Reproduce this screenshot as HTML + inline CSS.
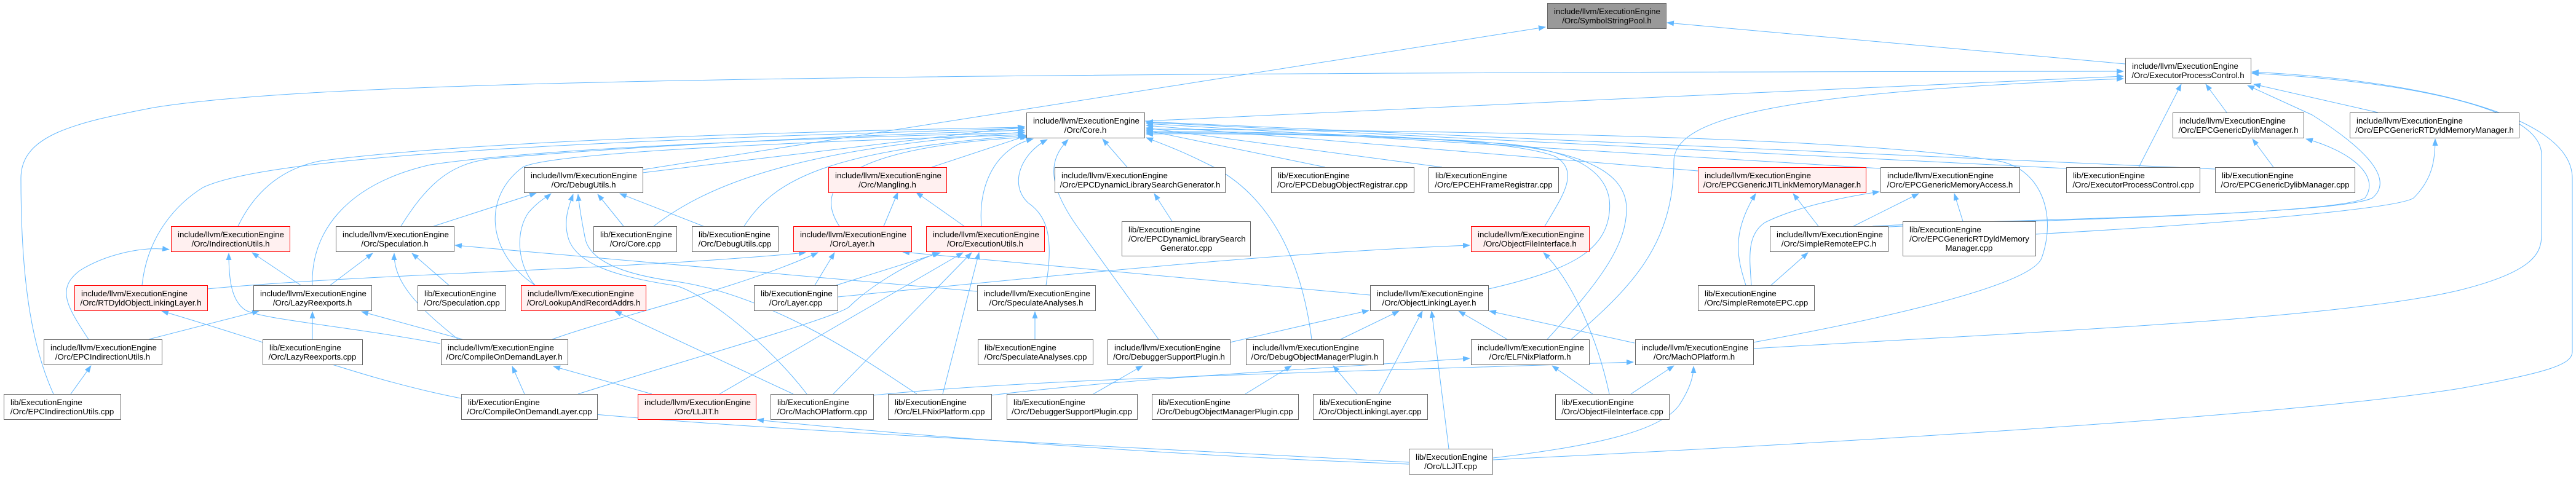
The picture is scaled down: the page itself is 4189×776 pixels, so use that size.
<!DOCTYPE html>
<html><head><meta charset="utf-8"><style>
html,body{margin:0;padding:0;background:#fff;}
svg{display:block;}
text{font-family:"Liberation Sans",Arial,sans-serif;font-size:13.3px;fill:#000;}
.n rect{fill:#fff;stroke:#666;stroke-width:1;}
.r rect{fill:#fff0f0;stroke:#ff0000;stroke-width:1;}
.g rect{fill:#999;stroke:#666;stroke-width:1;}
.e path{fill:none;stroke:#63b8ff;stroke-width:1;marker-end:url(#ah);}
</style></head><body>
<svg width="4189" height="776" viewBox="0 0 4189 776" xmlns="http://www.w3.org/2000/svg">
<defs><marker id="ah" markerUnits="userSpaceOnUse" markerWidth="12" markerHeight="9" refX="11" refY="4.5" orient="auto"><path d="M0,0 L12,4.5 L0,9 z" fill="#63b8ff"/></marker></defs>
<g class="e">
<path d="M3456,104 L2711,37"/>
<path d="M1045,276 L2513,44"/>
<path d="M1861,197 C2300,180 3000,140 3453,124"/>
<path d="M87,641 C50,560 34,450 34,290 C34,220 120,200 250,175 C500,135 1200,118 3453,116"/>
<path d="M2555,552 C2650,470 2722,400 2722,262 C2722,190 2900,150 3453,128"/>
<path d="M2428,748 C2900,725 3700,680 4000,632 C4150,605 4183,592 4183,572 L4183,290 C4183,180 3900,128 3662,117"/>
<path d="M2851,567 C3300,540 3800,520 4000,472 C4120,442 4133,412 4133,382 L4133,252 C4133,172 3900,132 3662,119"/>
<path d="M3478,272 L3547,137"/>
<path d="M3621,183 L3587,137"/>
<path d="M3867,183 L3665,137"/>
<path d="M3045,368 C3200,358 3800,352 3858,322 C3890,295 3860,250 3760,187 L3655,139"/>
<path d="M3050,370 C3300,357 3800,350 3846,322 C3872,285 3820,245 3750,226"/>
<path d="M3310,381 C3600,365 3900,340 3925,322 C3955,292 3960,262 3960,226"/>
<path d="M3697,272 L3663,226"/>
<path d="M3192,360 L3178,315"/>
<path d="M3014,368 L3120,315"/>
<path d="M2957,368 L2916,315"/>
<path d="M2839,464 C2825,420 2815,380 2855,315"/>
<path d="M2848,464 C2845,420 2840,382 2870,362 C2920,337 3000,320 3056,312"/>
<path d="M2880,464 L2940,411"/>
<path d="M1045,281 L1666,206"/>
<path d="M1515,272 L1672,220"/>
<path d="M1833,272 L1793,226"/>
<path d="M2155,272 L1864,212"/>
<path d="M2345,272 L1864,208"/>
<path d="M2761,278 L1864,204"/>
<path d="M3058,274 L1864,201"/>
<path d="M3360,274 L1864,199"/>
<path d="M3602,275 L1864,198"/>
<path d="M2851,557 C3000,530 3300,470 3320,420 C3345,350 3320,275 3250,262 C3000,220 2300,212 1864,210"/>
<path d="M387,368 C420,300 470,272 520,262 C800,225 1400,212 1666,207"/>
<path d="M652,368 C700,290 740,265 800,258 C1100,232 1500,216 1666,212"/>
<path d="M231,464 C240,380 290,330 330,305 C420,262 800,232 1666,209"/>
<path d="M508,464 C505,380 560,300 700,268 C900,238 1400,222 1666,216"/>
<path d="M870,464 C790,410 785,320 850,272 C900,245 1400,228 1666,219"/>
<path d="M1063,368 C1150,300 1300,240 1666,215"/>
<path d="M1210,368 C1260,290 1350,245 1667,220"/>
<path d="M1365,368 C1320,300 1380,240 1670,223"/>
<path d="M1596,368 C1590,300 1620,240 1680,226"/>
<path d="M1701,464 C1715,380 1700,350 1672,330 C1640,300 1660,250 1703,227"/>
<path d="M1884,552 L1760,380 C1700,300 1705,260 1737,227"/>
<path d="M2512,368 C2540,320 2570,280 2530,255 C2450,222 2100,214 1864,214"/>
<path d="M2421,470 C2550,440 2610,410 2617,346 C2625,280 2560,245 2450,234 C2200,217 1950,215 1864,216"/>
<path d="M2516,552 C2600,460 2645,400 2645,340 C2645,270 2550,242 2400,230 C2200,218 1950,217 1864,218"/>
<path d="M2133,552 C2120,450 2080,320 1960,265 C1920,245 1890,234 1864,224"/>
<path d="M705,368 L872,314"/>
<path d="M870,464 C840,430 838,375 860,345 C878,325 890,320 896,315"/>
<path d="M1014,368 L972,316"/>
<path d="M1144,368 L1008,315"/>
<path d="M1312,641 C1250,560 1150,480 1100,465 C1000,450 940,430 925,390 C915,360 925,335 932,316"/>
<path d="M1491,641 C1400,580 1250,480 1100,458 C1000,445 960,420 952,390 C946,360 942,335 940,316"/>
<path d="M489,464 L410,411"/>
<path d="M144,552 C110,500 90,470 130,440 C170,415 230,400 275,406"/>
<path d="M716,559 C560,530 430,520 400,505 C375,490 372,450 372,412"/>
<path d="M537,464 L606,412"/>
<path d="M730,464 L670,412"/>
<path d="M745,552 C680,500 640,460 641,412"/>
<path d="M1589,474 L740,399"/>
<path d="M242,552 L421,506"/>
<path d="M508,552 L508,507"/>
<path d="M752,552 L588,507"/>
<path d="M115,641 L148,595"/>
<path d="M2291,752 C1700,720 1000,690 760,650 C600,620 480,570 263,506"/>
<path d="M337,470 C600,445 1000,440 1310,411"/>
<path d="M898,552 C1000,515 1200,470 1330,411"/>
<path d="M853,641 L833,596"/>
<path d="M1060,641 L900,596"/>
<path d="M1325,464 L1357,411"/>
<path d="M1360,464 L1529,411"/>
<path d="M940,641 C1100,590 1350,520 1380,500 C1410,470 1470,430 1527,411"/>
<path d="M1170,641 L1566,411"/>
<path d="M1355,641 L1580,411"/>
<path d="M1533,641 L1592,411"/>
<path d="M1290,641 L1000,506"/>
<path d="M1437,368 L1460,313"/>
<path d="M1568,368 L1490,313"/>
<path d="M2228,480 C1900,450 1600,420 1468,410"/>
<path d="M1362,483 C1800,440 2100,410 2390,399"/>
<path d="M2617,641 C2600,560 2560,460 2510,411"/>
<path d="M1683,552 L1683,507"/>
<path d="M1906,360 L1877,315"/>
<path d="M2000,557 L2226,505"/>
<path d="M2180,552 L2275,506"/>
<path d="M2242,641 L2313,506"/>
<path d="M2356,730 L2328,506"/>
<path d="M2451,552 L2372,506"/>
<path d="M2658,558 L2422,506"/>
<path d="M1778,641 L1858,595"/>
<path d="M2025,641 L2100,595"/>
<path d="M2207,641 L2168,595"/>
<path d="M1612,643 C1800,620 2000,608 2390,583"/>
<path d="M1420,643 C1700,615 2100,608 2656,589"/>
<path d="M2590,641 L2524,595"/>
<path d="M2652,641 L2722,595"/>
<path d="M2428,745 C2600,725 2700,700 2730,660 C2750,630 2754,610 2754,596"/>
<path d="M2291,755 C2000,745 1600,720 1231,683"/>
</g>

<g class="r"><rect x="278.5" y="368.5" width="193" height="41"/><text x="289" y="386">include/llvm/ExecutionEngine</text><text x="375" y="401" text-anchor="middle">/Orc/IndirectionUtils.h</text></g>
<g class="n"><rect x="546.5" y="368.5" width="192" height="41"/><text x="557" y="386">include/llvm/ExecutionEngine</text><text x="642" y="401" text-anchor="middle">/Orc/Speculation.h</text></g>
<g class="n"><rect x="965.5" y="368.5" width="135" height="41"/><text x="976" y="386">lib/ExecutionEngine</text><text x="1033" y="401" text-anchor="middle">/Orc/Core.cpp</text></g>
<g class="n"><rect x="852.5" y="272.5" width="193" height="41"/><text x="863" y="290">include/llvm/ExecutionEngine</text><text x="949" y="305" text-anchor="middle">/Orc/DebugUtils.h</text></g>
<g class="r"><rect x="121.5" y="464.5" width="216" height="41"/><text x="132" y="482">include/llvm/ExecutionEngine</text><text x="229" y="497" text-anchor="middle">/Orc/RTDyldObjectLinkingLayer.h</text></g>
<g class="n"><rect x="412.5" y="464.5" width="192" height="41"/><text x="423" y="482">include/llvm/ExecutionEngine</text><text x="508" y="497" text-anchor="middle">/Orc/LazyReexports.h</text></g>
<g class="n"><rect x="679.5" y="464.5" width="143" height="41"/><text x="690" y="482">lib/ExecutionEngine</text><text x="751" y="497" text-anchor="middle">/Orc/Speculation.cpp</text></g>
<g class="r"><rect x="847.5" y="464.5" width="203" height="41"/><text x="858" y="482">include/llvm/ExecutionEngine</text><text x="949" y="497" text-anchor="middle">/Orc/LookupAndRecordAddrs.h</text></g>
<g class="n"><rect x="71.5" y="552.5" width="192" height="41"/><text x="82" y="570">include/llvm/ExecutionEngine</text><text x="167" y="585" text-anchor="middle">/Orc/EPCIndirectionUtils.h</text></g>
<g class="n"><rect x="427.5" y="552.5" width="162" height="41"/><text x="438" y="570">lib/ExecutionEngine</text><text x="508" y="585" text-anchor="middle">/Orc/LazyReexports.cpp</text></g>
<g class="n"><rect x="717.5" y="552.5" width="206" height="41"/><text x="728" y="570">include/llvm/ExecutionEngine</text><text x="820" y="585" text-anchor="middle">/Orc/CompileOnDemandLayer.h</text></g>
<g class="n"><rect x="6.5" y="641.5" width="190" height="41"/><text x="17" y="659">lib/ExecutionEngine</text><text x="101" y="674" text-anchor="middle">/Orc/EPCIndirectionUtils.cpp</text></g>
<g class="n"><rect x="750.5" y="641.5" width="221" height="41"/><text x="761" y="659">lib/ExecutionEngine</text><text x="861" y="674" text-anchor="middle">/Orc/CompileOnDemandLayer.cpp</text></g>
<g class="n"><rect x="1669.5" y="183.5" width="192" height="41"/><text x="1680" y="201">include/llvm/ExecutionEngine</text><text x="1765" y="216" text-anchor="middle">/Orc/Core.h</text></g>
<g class="r"><rect x="1347.5" y="272.5" width="192" height="41"/><text x="1358" y="290">include/llvm/ExecutionEngine</text><text x="1443" y="305" text-anchor="middle">/Orc/Mangling.h</text></g>
<g class="n"><rect x="1715.5" y="272.5" width="277" height="41"/><text x="1726" y="290">include/llvm/ExecutionEngine</text><text x="1854" y="305" text-anchor="middle">/Orc/EPCDynamicLibrarySearchGenerator.h</text></g>
<g class="n"><rect x="2067.5" y="272.5" width="232" height="41"/><text x="2078" y="290">lib/ExecutionEngine</text><text x="2183" y="305" text-anchor="middle">/Orc/EPCDebugObjectRegistrar.cpp</text></g>
<g class="n"><rect x="1125.5" y="368.5" width="140" height="41"/><text x="1136" y="386">lib/ExecutionEngine</text><text x="1195" y="401" text-anchor="middle">/Orc/DebugUtils.cpp</text></g>
<g class="r"><rect x="1290.5" y="368.5" width="192" height="41"/><text x="1301" y="386">include/llvm/ExecutionEngine</text><text x="1386" y="401" text-anchor="middle">/Orc/Layer.h</text></g>
<g class="r"><rect x="1506.5" y="368.5" width="192" height="41"/><text x="1517" y="386">include/llvm/ExecutionEngine</text><text x="1602" y="401" text-anchor="middle">/Orc/ExecutionUtils.h</text></g>
<g class="n"><rect x="1824.5" y="360.5" width="209" height="56"/><text x="1835" y="378">lib/ExecutionEngine</text><text x="1835" y="393">/Orc/EPCDynamicLibrarySearch</text><text x="1929" y="408" text-anchor="middle">Generator.cpp</text></g>
<g class="n"><rect x="1226.5" y="464.5" width="136" height="41"/><text x="1237" y="482">lib/ExecutionEngine</text><text x="1294" y="497" text-anchor="middle">/Orc/Layer.cpp</text></g>
<g class="n"><rect x="1589.5" y="464.5" width="192" height="41"/><text x="1600" y="482">include/llvm/ExecutionEngine</text><text x="1685" y="497" text-anchor="middle">/Orc/SpeculateAnalyses.h</text></g>
<g class="n"><rect x="1590.5" y="552.5" width="187" height="41"/><text x="1601" y="570">lib/ExecutionEngine</text><text x="1684" y="585" text-anchor="middle">/Orc/SpeculateAnalyses.cpp</text></g>
<g class="n"><rect x="1801.5" y="552.5" width="199" height="41"/><text x="1812" y="570">include/llvm/ExecutionEngine</text><text x="1901" y="585" text-anchor="middle">/Orc/DebuggerSupportPlugin.h</text></g>
<g class="n"><rect x="2026.5" y="552.5" width="223" height="41"/><text x="2037" y="570">include/llvm/ExecutionEngine</text><text x="2138" y="585" text-anchor="middle">/Orc/DebugObjectManagerPlugin.h</text></g>
<g class="r"><rect x="1037.5" y="641.5" width="192" height="41"/><text x="1048" y="659">include/llvm/ExecutionEngine</text><text x="1133" y="674" text-anchor="middle">/Orc/LLJIT.h</text></g>
<g class="n"><rect x="1253.5" y="641.5" width="167" height="41"/><text x="1264" y="659">lib/ExecutionEngine</text><text x="1337" y="674" text-anchor="middle">/Orc/MachOPlatform.cpp</text></g>
<g class="n"><rect x="1444.5" y="641.5" width="168" height="41"/><text x="1455" y="659">lib/ExecutionEngine</text><text x="1528" y="674" text-anchor="middle">/Orc/ELFNixPlatform.cpp</text></g>
<g class="n"><rect x="1637.5" y="641.5" width="212" height="41"/><text x="1648" y="659">lib/ExecutionEngine</text><text x="1743" y="674" text-anchor="middle">/Orc/DebuggerSupportPlugin.cpp</text></g>
<g class="n"><rect x="1873.5" y="641.5" width="238" height="41"/><text x="1884" y="659">lib/ExecutionEngine</text><text x="1992" y="674" text-anchor="middle">/Orc/DebugObjectManagerPlugin.cpp</text></g>
<g class="g"><rect x="2516.5" y="5.5" width="193" height="41"/><text x="2527" y="23">include/llvm/ExecutionEngine</text><text x="2613" y="38" text-anchor="middle">/Orc/SymbolStringPool.h</text></g>
<g class="n"><rect x="2323.5" y="272.5" width="211" height="41"/><text x="2334" y="290">lib/ExecutionEngine</text><text x="2429" y="305" text-anchor="middle">/Orc/EPCEHFrameRegistrar.cpp</text></g>
<g class="r"><rect x="2761.5" y="272.5" width="273" height="41"/><text x="2772" y="290">include/llvm/ExecutionEngine</text><text x="2898" y="305" text-anchor="middle">/Orc/EPCGenericJITLinkMemoryManager.h</text></g>
<g class="n"><rect x="3058.5" y="272.5" width="226" height="41"/><text x="3069" y="290">include/llvm/ExecutionEngine</text><text x="3171" y="305" text-anchor="middle">/Orc/EPCGenericMemoryAccess.h</text></g>
<g class="r"><rect x="2392.5" y="368.5" width="192" height="41"/><text x="2403" y="386">include/llvm/ExecutionEngine</text><text x="2488" y="401" text-anchor="middle">/Orc/ObjectFileInterface.h</text></g>
<g class="n"><rect x="2878.5" y="368.5" width="192" height="41"/><text x="2889" y="386">include/llvm/ExecutionEngine</text><text x="2974" y="401" text-anchor="middle">/Orc/SimpleRemoteEPC.h</text></g>
<g class="n"><rect x="3094.5" y="360.5" width="216" height="56"/><text x="3105" y="378">lib/ExecutionEngine</text><text x="3105" y="393">/Orc/EPCGenericRTDyldMemory</text><text x="3202" y="408" text-anchor="middle">Manager.cpp</text></g>
<g class="n"><rect x="2228.5" y="464.5" width="192" height="41"/><text x="2239" y="482">include/llvm/ExecutionEngine</text><text x="2324" y="497" text-anchor="middle">/Orc/ObjectLinkingLayer.h</text></g>
<g class="n"><rect x="2761.5" y="464.5" width="189" height="41"/><text x="2772" y="482">lib/ExecutionEngine</text><text x="2856" y="497" text-anchor="middle">/Orc/SimpleRemoteEPC.cpp</text></g>
<g class="n"><rect x="2392.5" y="552.5" width="192" height="41"/><text x="2403" y="570">include/llvm/ExecutionEngine</text><text x="2488" y="585" text-anchor="middle">/Orc/ELFNixPlatform.h</text></g>
<g class="n"><rect x="2659.5" y="552.5" width="192" height="41"/><text x="2670" y="570">include/llvm/ExecutionEngine</text><text x="2755" y="585" text-anchor="middle">/Orc/MachOPlatform.h</text></g>
<g class="n"><rect x="2135.5" y="641.5" width="186" height="41"/><text x="2146" y="659">lib/ExecutionEngine</text><text x="2228" y="674" text-anchor="middle">/Orc/ObjectLinkingLayer.cpp</text></g>
<g class="n"><rect x="2529.5" y="641.5" width="185" height="41"/><text x="2540" y="659">lib/ExecutionEngine</text><text x="2622" y="674" text-anchor="middle">/Orc/ObjectFileInterface.cpp</text></g>
<g class="n"><rect x="2291.5" y="730.5" width="136" height="41"/><text x="2302" y="748">lib/ExecutionEngine</text><text x="2359" y="763" text-anchor="middle">/Orc/LLJIT.cpp</text></g>
<g class="n"><rect x="3456.5" y="94.5" width="204" height="41"/><text x="3467" y="112">include/llvm/ExecutionEngine</text><text x="3558" y="127" text-anchor="middle">/Orc/ExecutorProcessControl.h</text></g>
<g class="n"><rect x="3533.5" y="183.5" width="213" height="41"/><text x="3544" y="201">include/llvm/ExecutionEngine</text><text x="3640" y="216" text-anchor="middle">/Orc/EPCGenericDylibManager.h</text></g>
<g class="n"><rect x="3821.5" y="183.5" width="275" height="41"/><text x="3832" y="201">include/llvm/ExecutionEngine</text><text x="3959" y="216" text-anchor="middle">/Orc/EPCGenericRTDyldMemoryManager.h</text></g>
<g class="n"><rect x="3360.5" y="272.5" width="217" height="41"/><text x="3371" y="290">lib/ExecutionEngine</text><text x="3469" y="305" text-anchor="middle">/Orc/ExecutorProcessControl.cpp</text></g>
<g class="n"><rect x="3602.5" y="272.5" width="227" height="41"/><text x="3613" y="290">lib/ExecutionEngine</text><text x="3716" y="305" text-anchor="middle">/Orc/EPCGenericDylibManager.cpp</text></g>
</svg>
</body></html>
